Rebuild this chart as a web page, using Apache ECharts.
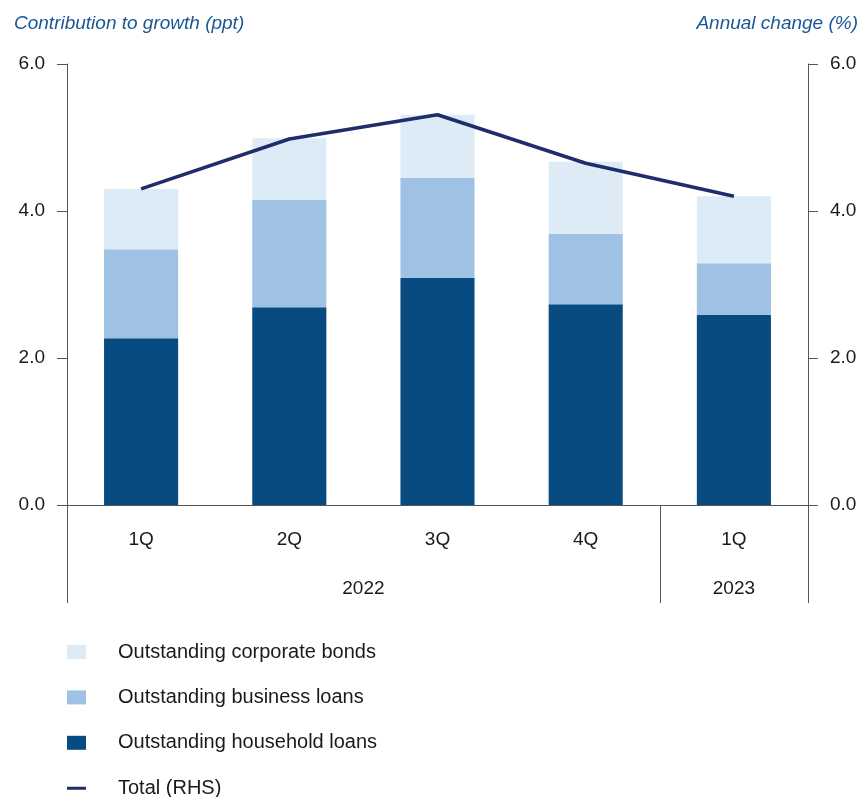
<!DOCTYPE html>
<html>
<head>
<meta charset="utf-8">
<script src="https://cdn.jsdelivr.net/npm/echarts@6/dist/echarts.min.js"></script>
<style>
  html, body { margin: 0; padding: 0; background: #fff; }
  #chart { width: 863px; height: 797px; }
</style>
</head>
<body>
<div id="chart"></div>
<script>
// quarters along the bottom, with the year groups under them
const quarters = ["1Q", "2Q", "3Q", "4Q", "1Q"];
const years = ["2022", "2023"];
const yearSpans = [4, 1]; // number of quarters in each year group

// contribution to growth (ppt), stacked
const household = [2.27, 2.69, 3.09, 2.73, 2.59];
const business = [1.21, 1.46, 1.36, 0.96, 0.70];
const corpBonds = [0.82, 0.84, 0.86, 0.98, 0.91];
// annual change (%), right axis
const total = [4.30, 4.98, 5.31, 4.65, 4.20];

const C = {
  household: "#084b80", business: "#9fc2e4", bonds: "#ddebf6",
  total: "#1f2d6b", axis: "#555555", text: "#1a1a1a", title: "#1b5796",
};
const FONT = "Liberation Sans, Arial, sans-serif";

// year group boundaries/centres on a 0..n value scale
const bounds = [0];
yearSpans.forEach((s) => bounds.push(bounds[bounds.length - 1] + s));
const yearCentres = years.map((y, i) => (bounds[i] + bounds[i + 1]) / 2);

const yAxisBase = {
  type: "value", min: 0, max: 6, interval: 2,
  axisLine: { show: true, lineStyle: { color: C.axis, width: 1 } },
  axisTick: { show: true, length: 10, lineStyle: { color: C.axis } },
  splitLine: { show: false },
  axisLabel: { color: C.text, fontSize: 19, fontFamily: FONT, margin: 22,
    padding: [4, 0, 0, 0], formatter: (v) => v.toFixed(1) },
};
const titleStyle = { color: C.title, fontSize: 19, fontStyle: "italic", fontWeight: "normal", fontFamily: FONT };

// thin horizontal dash for the line's legend key (corner points keep the box 19x14)
const dashIcon = "path://M0,0h0.01v0.01h-0.01z M19,14h0.01v0.01h-0.01z M0,5.5h19v3h-19z";

const chart = echarts.init(document.getElementById("chart"));
chart.setOption({
  animation: false,
  backgroundColor: "#fff",
  textStyle: { fontFamily: FONT },
  title: [
    { text: "Contribution to growth (ppt)", left: 9, top: 9, textStyle: titleStyle },
    { text: "Annual change (%)", right: 0, top: 9, textStyle: titleStyle },
  ],
  grid: { left: 67, right: 55, top: 64, bottom: 292 },
  legend: {
    orient: "vertical", left: 67, top: 642, height: 170, padding: 0,
    itemWidth: 19, itemHeight: 14, itemGap: 25.4, icon: "rect",
    textStyle: { color: C.text, fontSize: 20, lineHeight: 20, fontFamily: FONT, padding: [0, 0, 0, 27] },
    data: [
      "Outstanding corporate bonds", "Outstanding business loans", "Outstanding household loans",
      { name: "Total (RHS)", icon: dashIcon },
    ],
  },
  xAxis: [
    {
      type: "category", data: quarters, position: "bottom",
      axisLine: { show: true, lineStyle: { color: C.axis } },
      axisTick: { show: true, length: 98, inside: false, lineStyle: { color: C.axis },
        interval: 0, customValues: bounds },
      axisLabel: { color: C.text, fontSize: 19, fontFamily: FONT, margin: 25 },
    },
    {
      type: "value", min: 0, max: quarters.length, position: "bottom",
      axisLine: { show: false }, axisTick: { show: false }, splitLine: { show: false },
      axisLabel: { color: C.text, fontSize: 19, fontFamily: FONT, margin: 74,
        customValues: yearCentres,
        formatter: (v) => years[yearCentres.indexOf(v)] || "" },
    },
  ],
  yAxis: [
    Object.assign({}, yAxisBase, { position: "left" }),
    Object.assign({}, yAxisBase, { position: "right" }),
  ],
  series: [
    { name: "Outstanding household loans", type: "bar", stack: "g", data: household,
      barWidth: "50%", itemStyle: { color: C.household } },
    { name: "Outstanding business loans", type: "bar", stack: "g", data: business,
      itemStyle: { color: C.business } },
    { name: "Outstanding corporate bonds", type: "bar", stack: "g", data: corpBonds,
      itemStyle: { color: C.bonds } },
    { name: "Total (RHS)", type: "line", yAxisIndex: 1, data: total, symbol: "none",
      lineStyle: { color: C.total, width: 3.5 }, itemStyle: { color: C.total } },
  ],
});
</script>
</body>
</html>
